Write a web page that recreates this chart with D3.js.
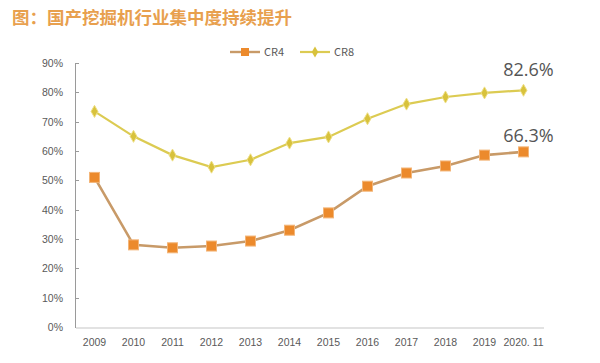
<!DOCTYPE html>
<meta charset="utf-8">
<style>
    body {
        margin: 0;
        background-color: #fff;
    }

    svg {
        font-family: "Noto Sans CJK SC", "Noto Sans", sans-serif;
    }

    .axis text {
        fill: #595959;
        font-size: 10.5px;
    }

    .axis .domain,
    .axis line {
        stroke: #9a9a9a;
        shape-rendering: crispEdges;
    }
</style>

<body>
    <script src="https://cdn.jsdelivr.net/npm/d3@7"></script>
    <script>
        var years = ["2009", "2010", "2011", "2012", "2013", "2014", "2015", "2016", "2017", "2018", "2019", "2020. 11"];
        var cr4 = [51, 28, 27, 27.6, 29.3, 33, 38.9, 48, 52.5, 54.9, 58.6, 59.7];
        var cr8 = [73.5, 65, 58.6, 54.5, 57, 62.7, 64.8, 71, 76, 78.4, 79.8, 80.7];
        var yTicks = [0, 10, 20, 30, 40, 50, 60, 70, 80, 90];
        var endLabels = ["66.3%", "82.6%"];

        var width = 600,
            height = 363;

        var svg = d3.select("body").append("svg")
            .attr("width", width)
            .attr("height", height);

        var x = d3.scaleBand()
            .domain(years)
            .range([75, 543]);

        var y = d3.scaleLinear()
            .domain([0, 90])
            .range([327, 63]);

        // title
        svg.append("text")
            .attr("x", 12)
            .attr("y", 24)
            .style("font-size", "17.5px")
            .style("font-weight", "bold")
            .style("fill", "#e8a04e")
            .text("图：国产挖掘机行业集中度持续提升");

        // axes
        svg.append("g")
            .attr("class", "y axis")
            .attr("transform", "translate(75,0)")
            .call(d3.axisLeft(y).tickValues(yTicks).tickSize(-4).tickPadding(12)
                .tickFormat(d => d + "%"));

        svg.append("g")
            .attr("class", "x axis")
            .attr("transform", "translate(0,327)")
            .call(d3.axisBottom(x).tickSize(0).tickPadding(12));

        svg.selectAll(".x.axis .domain").style("stroke", "#e2e2e2").style("stroke-width", 2);

        var line = d3.line()
            .x((d, i) => x(years[i]) + x.bandwidth() / 2)
            .y(d => y(d));

        // CR8
        svg.append("path")
            .datum(cr8)
            .attr("fill", "none")
            .attr("stroke", "#dccb52")
            .attr("stroke-width", 2.2)
            .attr("d", line);

        svg.selectAll(".cr8-pt")
            .data(cr8)
            .enter().append("path")
            .attr("class", "cr8-pt")
            .attr("transform", (d, i) => "translate(" + (x(years[i]) + x.bandwidth() / 2) + "," + y(d) + ")")
            .attr("d", d3.symbol().type(d3.symbolDiamond).size(42))
            .attr("fill", "#d8c23c")
            .attr("stroke", "#eedf86")
            .attr("stroke-width", 1);

        // CR4
        svg.append("path")
            .datum(cr4)
            .attr("fill", "none")
            .attr("stroke", "#c89a68")
            .attr("stroke-width", 2.6)
            .attr("d", line);

        svg.selectAll(".cr4-pt")
            .data(cr4)
            .enter().append("rect")
            .attr("class", "cr4-pt")
            .attr("x", (d, i) => x(years[i]) + x.bandwidth() / 2 - 5)
            .attr("y", d => y(d) - 5)
            .attr("width", 10)
            .attr("height", 10)
            .attr("fill", "#ec8a2c")
            .attr("stroke", "#f3b578")
            .attr("stroke-width", 1);

        // end labels
        var lastX = x(years[years.length - 1]) + x.bandwidth() / 2 + 5;
        svg.append("text")
            .attr("x", lastX)
            .attr("y", y(cr4[cr4.length - 1]) - 10)
            .attr("text-anchor", "middle")
            .style("font-size", "18px")
            .style("fill", "#555")
            .style("font-family", "'Open Sans', sans-serif")
            .text(endLabels[0]);

        svg.append("text")
            .attr("x", lastX)
            .attr("y", y(cr8[cr8.length - 1]) - 14)
            .attr("text-anchor", "middle")
            .style("font-size", "18px")
            .style("fill", "#555")
            .style("font-family", "'Open Sans', sans-serif")
            .text(endLabels[1]);

        // legend
        var legend = svg.append("g").attr("transform", "translate(230,52)");
        legend.append("line").attr("x1", 0).attr("x2", 30).attr("stroke", "#c89a68").attr("stroke-width", 2.4);
        legend.append("rect").attr("x", 11).attr("y", -4).attr("width", 8).attr("height", 8)
            .attr("fill", "#ec8a2c");
        legend.append("text").attr("x", 34).attr("y", 4).style("font-size", "11px").style("fill", "#595959").text("CR4");

        legend.append("line").attr("x1", 70).attr("x2", 100).attr("stroke", "#dccb52").attr("stroke-width", 2.2);
        legend.append("path").attr("transform", "translate(85,0)")
            .attr("d", d3.symbol().type(d3.symbolDiamond).size(36))
            .attr("fill", "#d8c23c");
        legend.append("text").attr("x", 104).attr("y", 4).style("font-size", "11px").style("fill", "#595959").text("CR8");
    </script>
</body>

</html>
